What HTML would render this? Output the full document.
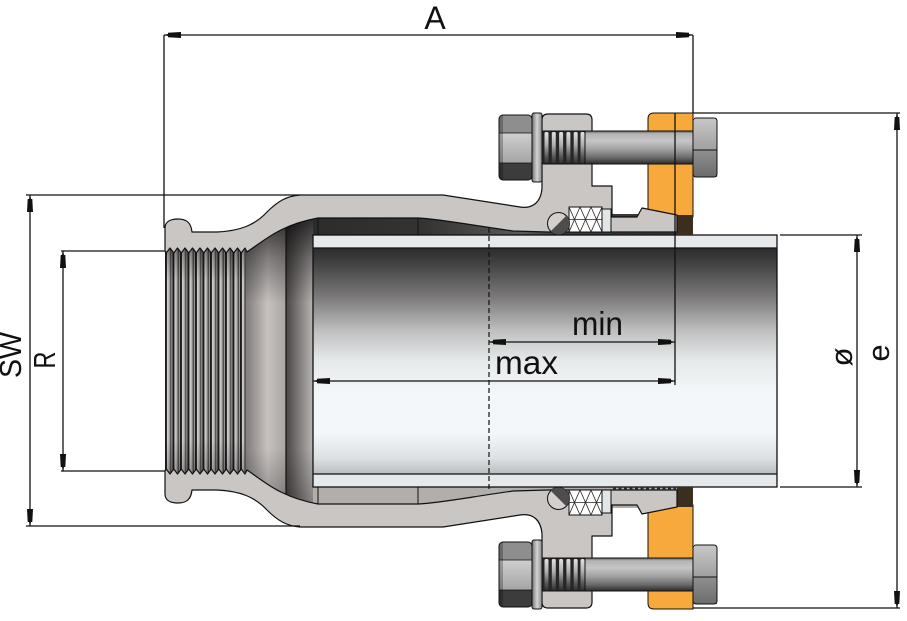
<!DOCTYPE html>
<html><head><meta charset="utf-8"><style>
html,body{margin:0;padding:0;background:#fff;}
svg{display:block;}
text{font-family:"Liberation Sans",sans-serif;fill:#111;}
</style></head><body>
<svg width="907" height="621" viewBox="0 0 907 621" xmlns="http://www.w3.org/2000/svg">
<defs>
<linearGradient id="pipeG" x1="0" y1="248" x2="0" y2="474" gradientUnits="userSpaceOnUse">
 <stop offset="0" stop-color="#2b2b2b"/>
 <stop offset="0.08" stop-color="#474646"/>
 <stop offset="0.22" stop-color="#7c7a7a"/>
 <stop offset="0.36" stop-color="#bdbdbd"/>
 <stop offset="0.5" stop-color="#e6eaeb"/>
 <stop offset="0.65" stop-color="#f3f7f9"/>
 <stop offset="0.82" stop-color="#f3f7f9"/>
 <stop offset="0.93" stop-color="#dde1e3"/>
 <stop offset="1" stop-color="#b9bdbf"/>
</linearGradient>
<linearGradient id="thrG" x1="0" y1="0" x2="1" y2="0">
 <stop offset="0" stop-color="#1c1c1c"/>
 <stop offset="0.22" stop-color="#1c1c1c"/>
 <stop offset="0.3" stop-color="#d2cecd"/>
 <stop offset="0.55" stop-color="#b8b4b3"/>
 <stop offset="0.72" stop-color="#6a6666"/>
 <stop offset="0.8" stop-color="#262626"/>
 <stop offset="0.87" stop-color="#a8a4a3"/>
 <stop offset="1" stop-color="#8a8685"/>
</linearGradient>
<pattern id="thr" x="165" y="0" width="7.5" height="20" patternUnits="userSpaceOnUse">
 <rect width="7.5" height="20" fill="url(#thrG)"/>
</pattern>
<linearGradient id="vshade" x1="0" y1="214" x2="0" y2="508" gradientUnits="userSpaceOnUse">
 <stop offset="0" stop-color="#000" stop-opacity="0.8"/>
 <stop offset="0.15" stop-color="#000" stop-opacity="0.35"/>
 <stop offset="0.3" stop-color="#000" stop-opacity="0"/>
 <stop offset="0.8" stop-color="#000" stop-opacity="0"/>
 <stop offset="1" stop-color="#000" stop-opacity="0.3"/>
</linearGradient>
<linearGradient id="vshade2" x1="0" y1="248" x2="0" y2="474" gradientUnits="userSpaceOnUse">
 <stop offset="0" stop-color="#000" stop-opacity="0.35"/>
 <stop offset="0.15" stop-color="#000" stop-opacity="0"/>
 <stop offset="0.85" stop-color="#000" stop-opacity="0"/>
 <stop offset="1" stop-color="#000" stop-opacity="0.25"/>
</linearGradient>
<linearGradient id="coneG" x1="245" y1="0" x2="286" y2="0" gradientUnits="userSpaceOnUse">
 <stop offset="0" stop-color="#7e7a79"/>
 <stop offset="0.55" stop-color="#c6c0be"/>
 <stop offset="1" stop-color="#a9a3a1"/>
</linearGradient>
<linearGradient id="boreG" x1="286" y1="0" x2="313" y2="0" gradientUnits="userSpaceOnUse">
 <stop offset="0" stop-color="#4a4646"/>
 <stop offset="1" stop-color="#b8b4b2"/>
</linearGradient>
<linearGradient id="topBore" x1="313" y1="0" x2="560" y2="0" gradientUnits="userSpaceOnUse">
 <stop offset="0" stop-color="#2c2c2c"/>
 <stop offset="0.45" stop-color="#333"/>
 <stop offset="0.85" stop-color="#5a5a5a"/>
 <stop offset="1" stop-color="#3a3a3a"/>
</linearGradient>
<linearGradient id="shankG" x1="0" y1="0" x2="0" y2="1">
 <stop offset="0" stop-color="#5a5a5a"/>
 <stop offset="0.08" stop-color="#b4b4b4"/>
 <stop offset="0.3" stop-color="#c6c6c6"/>
 <stop offset="0.55" stop-color="#a2a2a2"/>
 <stop offset="0.8" stop-color="#6c6c6c"/>
 <stop offset="1" stop-color="#2c2c2c"/>
</linearGradient>
<linearGradient id="ridgeG" x1="0" y1="0" x2="0" y2="1">
 <stop offset="0" stop-color="#e2e2e2"/>
 <stop offset="0.4" stop-color="#b0b0b0"/>
 <stop offset="0.8" stop-color="#555"/>
 <stop offset="1" stop-color="#333"/>
</linearGradient>
<linearGradient id="washerG" x1="0" y1="0" x2="1" y2="0">
 <stop offset="0" stop-color="#707070"/>
 <stop offset="0.5" stop-color="#d4d4d4"/>
 <stop offset="1" stop-color="#8a8a8a"/>
</linearGradient>
<linearGradient id="nutMid" x1="0" y1="0" x2="0" y2="1">
 <stop offset="0" stop-color="#d0d0d0"/>
 <stop offset="1" stop-color="#a4a4a4"/>
</linearGradient>
<linearGradient id="headTop" x1="0" y1="0" x2="0" y2="1">
 <stop offset="0" stop-color="#c8c8c8"/>
 <stop offset="1" stop-color="#a0a0a0"/>
</linearGradient>
<linearGradient id="headBot" x1="0" y1="0" x2="0" y2="1">
 <stop offset="0" stop-color="#909090"/>
 <stop offset="1" stop-color="#6c6c6c"/>
</linearGradient>
<clipPath id="nutClip"><rect x="499" y="115" width="33" height="65" rx="4"/></clipPath>
<clipPath id="intClip"><path d="M245,250 C265,240 280,225 318,217 L318,505 C280,497 265,482 245,472 Z"/></clipPath>
<polygon id="ar" points="0,0 4,-1 4,-2.3 17,-3 17,3 4,2.3 4,1" fill="#111"/>

<g id="half">
 <path d="M654,113 L693,113 L693,217 L648,217 L648,119 Q648,113 654,113 Z" fill="#f7a93b" stroke="#111" stroke-width="1"/>
 <rect x="677" y="215" width="16" height="20" fill="#3b2e1c"/>
 <path d="M165,251 L165,228 C165,222 170,219 178,219 C187,219 191,223 192,232 L217,232 C240,231 255,225 267,212 C278,201 287,196 300,195 L443,195 L520,207 C533,209 541,202 542,188 L542,120 Q542,114 548,114 L586,114 Q592,114 592,120 L592,186 L612,186 L612,217 L637,217 L642,208 L677,215 L677,232 L548,232 L513,231 C470,225 440,219 418,218 L318,218 C280,225 265,240 247,252 L245,248 L241.25,253 L237.5,248 L233.75,253 L230,248 L226.25,253 L222.5,248 L218.75,253 L215,248 L211.25,253 L207.5,248 L203.75,253 L200,248 L196.25,253 L192.5,248 L188.75,253 L185,248 L181.25,253 L177.5,248 L173.75,253 L170,248 L166.25,253 L165,251 Z" fill="#c9c6c3" stroke="#111" stroke-width="1.2" stroke-linejoin="round"/>
 <line x1="613" y1="233.5" x2="676" y2="233.5" stroke="#2a2a2a" stroke-width="3" stroke-dasharray="3 2.5"/>
 <rect x="569" y="207" width="33" height="25" fill="#fff" stroke="#111" stroke-width="1"/>
 <path d="M569,207 L580,232 M580,207 L569,232 M580,207 L591,232 M591,207 L580,232 M591,207 L602,232 M602,207 L591,232 M569,219.5 L602,219.5" stroke="#222" stroke-width="0.8" fill="none"/>
 <rect x="602" y="209" width="9" height="23" fill="#e2e6e8" stroke="#111" stroke-width="1"/>
 <circle cx="558.5" cy="223.5" r="11" fill="#d4d0ce" stroke="#111" stroke-width="1"/>
 <path d="M566.3,215.7 A11,11 0 0 1 550.7,231.3 Z" fill="#4e4c4c"/>
</g>

<g id="bolt">
 <rect x="532" y="113" width="10" height="69" rx="2" fill="url(#washerG)" stroke="#111" stroke-width="1"/>
 <rect x="542" y="131" width="43" height="33" fill="#262626" stroke="#111" stroke-width="1"/>
 <rect x="544.5" y="132" width="4" height="31" rx="1.5" fill="url(#ridgeG)"/>
 <rect x="551.8" y="132" width="4" height="31" rx="1.5" fill="url(#ridgeG)"/>
 <rect x="559.1" y="132" width="4" height="31" rx="1.5" fill="url(#ridgeG)"/>
 <rect x="566.4" y="132" width="4" height="31" rx="1.5" fill="url(#ridgeG)"/>
 <rect x="573.7" y="132" width="4" height="31" rx="1.5" fill="url(#ridgeG)"/>
 <rect x="580.5" y="132" width="4" height="31" rx="1.5" fill="url(#ridgeG)"/>
 <rect x="585" y="131" width="108" height="33" fill="url(#shankG)" stroke="#111" stroke-width="1"/>
 <rect x="693" y="118" width="24" height="32" fill="url(#headTop)"/>
 <rect x="693" y="150" width="24" height="27" fill="url(#headBot)"/>
 <rect x="693" y="118" width="24" height="59" rx="3" fill="none" stroke="#111" stroke-width="1"/>
 <line x1="693" y1="150" x2="717" y2="150" stroke="#111" stroke-width="1"/>
 <g clip-path="url(#nutClip)">
  <rect x="499" y="115" width="33" height="18" fill="#8e8e8e"/>
  <rect x="499" y="133" width="33" height="30" fill="url(#nutMid)"/>
  <rect x="499" y="163" width="33" height="17" fill="#3c3c3c"/>
  <rect x="499" y="115" width="4" height="65" fill="#000" fill-opacity="0.25"/>
 </g>
 <rect x="499" y="115" width="33" height="65" rx="4" fill="none" stroke="#111" stroke-width="1"/>
 <line x1="499" y1="133" x2="532" y2="133" stroke="#111" stroke-width="0.8"/>
 <line x1="499" y1="163" x2="532" y2="163" stroke="#111" stroke-width="0.8"/>
</g>
</defs>

<rect width="907" height="621" fill="#fff"/>

<!-- bores -->
<rect x="313" y="214" width="364" height="21" fill="url(#topBore)"/>
<rect x="313" y="487" width="364" height="21" fill="#b2aeac"/>

<!-- left interior -->
<g clip-path="url(#intClip)">
 <rect x="245" y="214" width="41" height="294" fill="url(#coneG)"/>
 <rect x="286" y="214" width="27" height="294" fill="url(#boreG)"/>
 <rect x="245" y="214" width="68" height="294" fill="url(#vshade)"/>
</g>

<!-- threads -->
<rect x="165" y="246" width="80" height="230" fill="url(#thr)"/>
<rect x="165" y="246" width="80" height="230" fill="url(#vshade2)"/>
<line x1="245" y1="250" x2="245" y2="472" stroke="#333" stroke-width="1"/>
<line x1="286" y1="224" x2="286" y2="498" stroke="#111" stroke-width="1.2"/>
<path d="M318,218 V235 M418,218 V235 M318,487 V504 M418,487 V504" stroke="#111" stroke-width="1"/>

<!-- pipe -->
<rect x="313" y="235" width="464" height="13" fill="#e5e9eb"/>
<rect x="313" y="474" width="464" height="13" fill="#e5e9eb"/>
<rect x="313" y="248" width="464" height="226" fill="url(#pipeG)"/>
<rect x="313" y="235" width="464" height="252" fill="none" stroke="#111" stroke-width="1.3"/>
<path d="M313,248 H777 M313,474 H777" stroke="#111" stroke-width="1.2"/>

<!-- fitting halves -->
<use href="#half"/>
<use href="#half" transform="matrix(1 0 0 -1 0 722)"/>

<!-- bolts -->
<use href="#bolt"/>
<use href="#bolt" transform="translate(0,427)"/>

<!-- dimension lines -->
<g stroke="#111" stroke-width="1.3" fill="none">
 <path d="M164,35 H693 M164,35 V228 M693,35 V113"/>
 <path d="M693,113 H900 M693,608 H900 M897,113 V608"/>
 <path d="M780,235 H862 M780,487 H862 M857,235 V487"/>
 <path d="M26,195 H300 M26,526 H300 M30,195 V526"/>
 <path d="M61,251 H165 M61,471 H165 M63,251 V471"/>
 <path d="M489,342 H675 M313,381 H675 M675,113 V385"/>
</g>
<path d="M489,228 V492" stroke="#111" stroke-width="1.2" stroke-dasharray="5 3"/>

<!-- arrows -->
<use href="#ar" transform="translate(164,35)"/>
<use href="#ar" transform="translate(693,35) rotate(180)"/>
<use href="#ar" transform="translate(897,113) rotate(90)"/>
<use href="#ar" transform="translate(897,608) rotate(-90)"/>
<use href="#ar" transform="translate(857,235) rotate(90)"/>
<use href="#ar" transform="translate(857,487) rotate(-90)"/>
<use href="#ar" transform="translate(30,195) rotate(90)"/>
<use href="#ar" transform="translate(30,526) rotate(-90)"/>
<use href="#ar" transform="translate(63,251) rotate(90)"/>
<use href="#ar" transform="translate(63,471) rotate(-90)"/>
<use href="#ar" transform="translate(489,342)"/>
<use href="#ar" transform="translate(675,342) rotate(180)"/>
<use href="#ar" transform="translate(313,381)"/>
<use href="#ar" transform="translate(675,381) rotate(180)"/>

<!-- labels -->
<text x="435" y="29" font-size="32" text-anchor="middle">A</text>
<text x="572" y="335" font-size="33" textLength="51" lengthAdjust="spacingAndGlyphs">min</text>
<text x="495" y="374" font-size="33" textLength="63" lengthAdjust="spacingAndGlyphs">max</text>
<text transform="translate(21,355) rotate(-90)" font-size="31" text-anchor="middle" textLength="46" lengthAdjust="spacingAndGlyphs">SW</text>
<text transform="translate(55,360) rotate(-90)" font-size="31" text-anchor="middle" textLength="17" lengthAdjust="spacingAndGlyphs">R</text>
<text transform="translate(852,357) rotate(-90)" font-size="31" text-anchor="middle">ø</text>
<text transform="translate(889,353) rotate(-90)" font-size="31" text-anchor="middle">e</text>
</svg>
</body></html>
